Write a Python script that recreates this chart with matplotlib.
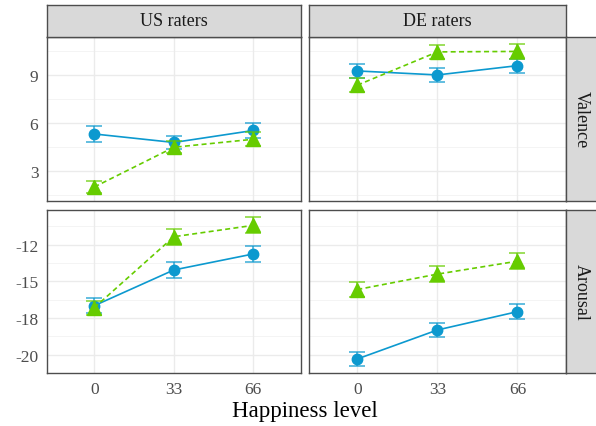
import matplotlib
matplotlib.use("Agg")
import matplotlib.pyplot as plt

plt.rcParams['font.family'] = ['Liberation Serif', 'DejaVu Serif']

levels = ["0", "33", "66"]
raters = ["US raters", "DE raters"]
measures = ["Valence", "Arousal"]

# means and error half-widths
us_val_blue = [5.33, 4.80, 5.55]
us_val_blue_err = [0.48, 0.40, 0.45]
us_val_green = [2.02, 4.50, 5.00]
us_val_green_err = [0.40, 0.37, 0.45]
de_val_blue = [9.27, 9.02, 9.60]
de_val_blue_err = [0.45, 0.44, 0.43]
de_val_green = [8.38, 10.46, 10.49]
de_val_green_err = [0.43, 0.44, 0.45]
us_aro_blue = [-16.99, -14.07, -12.76]
us_aro_blue_err = [0.63, 0.65, 0.65]
us_aro_green = [-17.15, -11.35, -10.42]
us_aro_green_err = [0.58, 0.65, 0.65]
de_aro_blue = [-21.35, -18.98, -17.48]
de_aro_blue_err = [0.60, 0.60, 0.60]
de_aro_green = [-15.67, -14.41, -13.35]
de_aro_green_err = [0.64, 0.64, 0.64]

val_ticks = [3, 6, 9]
val_labels = ["3", "6", "9"]
aro_ticks = [-12, -15, -18, -21]
aro_labels = ["-12", "-15", "-18", "-20"]

data = {
    ("Valence", "US raters"): (us_val_blue, us_val_blue_err, us_val_green, us_val_green_err),
    ("Valence", "DE raters"): (de_val_blue, de_val_blue_err, de_val_green, de_val_green_err),
    ("Arousal", "US raters"): (us_aro_blue, us_aro_blue_err, us_aro_green, us_aro_green_err),
    ("Arousal", "DE raters"): (de_aro_blue, de_aro_blue_err, de_aro_green, de_aro_green_err),
}

BLUE = "#0C99CF"
GREEN = "#66CC00"
BORDER = "#4D4D4D"
W, H = 596, 427

fig = plt.figure(figsize=(W / 100, H / 100), dpi=100)


def rect(x0, y0, x1, y1):
    return [x0 / W, 1 - y1 / H, (x1 - x0) / W, (y1 - y0) / H]


cols = [(46.7, 301.0), (309.3, 565.5)]
rows = [(37.7, 201.7), (210.7, 374.0)]
ylims = {"Valence": (1.16, 11.41), "Arousal": (-22.5, -9.14)}
yminor = {"Valence": [1.5, 4.5, 7.5, 10.5], "Arousal": [-10.5, -13.5, -16.5, -19.5]}
yticks = {"Valence": (val_ticks, val_labels), "Arousal": (aro_ticks, aro_labels)}

x = list(range(len(levels)))

for r, m in enumerate(measures):
    for c, rat in enumerate(raters):
        ax = fig.add_axes(rect(cols[c][0], rows[r][0], cols[c][1], rows[r][1]))
        ax.set_xlim(-0.6, 2.6)
        ax.set_ylim(*ylims[m])
        for v in yminor[m]:
            ax.axhline(v, color="#F2F2F2", lw=0.6, zorder=0)
        for v in yticks[m][0]:
            ax.axhline(v, color="#EBEBEB", lw=1.0, zorder=0)
        for v in x:
            ax.axvline(v, color="#EBEBEB", lw=1.0, zorder=0)
        b, be, g, ge = data[(m, rat)]
        ax.plot(x, b, color=BLUE, lw=1.2, zorder=2)
        ax.errorbar(x, b, yerr=be, fmt="none", ecolor=BLUE, alpha=0.75,
                    elinewidth=1.2, capsize=6, capthick=1.2, zorder=2)
        ax.plot(x, b, "o", color=BLUE, ms=7.5, zorder=3)
        ax.plot(x, g, color=GREEN, lw=1.2, ls=(0, (3, 2)), zorder=4)
        ax.errorbar(x, g, yerr=ge, fmt="none", ecolor=GREEN, alpha=0.75,
                    elinewidth=1.2, capsize=6, capthick=1.2, zorder=4)
        ax.plot(x, g, "^", color=GREEN, ms=9.5, zorder=5)
        for s in ax.spines.values():
            s.set_color(BORDER)
            s.set_linewidth(1.0)
        ax.tick_params(length=0, labelsize=12.5, labelcolor="#4D4D4D", pad=6)
        ax.set_xticks(x)
        if r == 1:
            ax.set_xticklabels(levels)
        else:
            ax.set_xticklabels([])
        if c == 0:
            ax.set_yticks(yticks[m][0])
            ax.set_yticklabels(yticks[m][1])
        else:
            ax.set_yticks(yticks[m][0])
            ax.set_yticklabels([])

# column strips
for c, rat in enumerate(raters):
    sa = fig.add_axes(rect(cols[c][0], 6.0, cols[c][1], rows[0][0]))
    sa.set_facecolor("#D9D9D9")
    sa.set_xticks([]); sa.set_yticks([])
    for s in sa.spines.values():
        s.set_color(BORDER)
        s.set_linewidth(1.0)
    sa.text(0.5, 0.5, rat, ha="center", va="center", fontsize=13, color="#1A1A1A",
            transform=sa.transAxes)

# row strips
for r, m in enumerate(measures):
    sa = fig.add_axes(rect(cols[1][1], rows[r][0], 600, rows[r][1]))
    sa.set_facecolor("#D9D9D9")
    sa.set_xticks([]); sa.set_yticks([])
    for s in sa.spines.values():
        s.set_color(BORDER)
        s.set_linewidth(1.0)
    sa.text(581 / W, 1 - (rows[r][0] + rows[r][1]) / 2 / H, m, ha="center", va="center",
            rotation=-90, fontsize=13, color="#1A1A1A", transform=fig.transFigure)

fig.text(305 / W, 1 - 412 / H, "Happiness level", ha="center", va="center", fontsize=16.5,
         color="black")

fig.savefig("out.png", dpi=100)
